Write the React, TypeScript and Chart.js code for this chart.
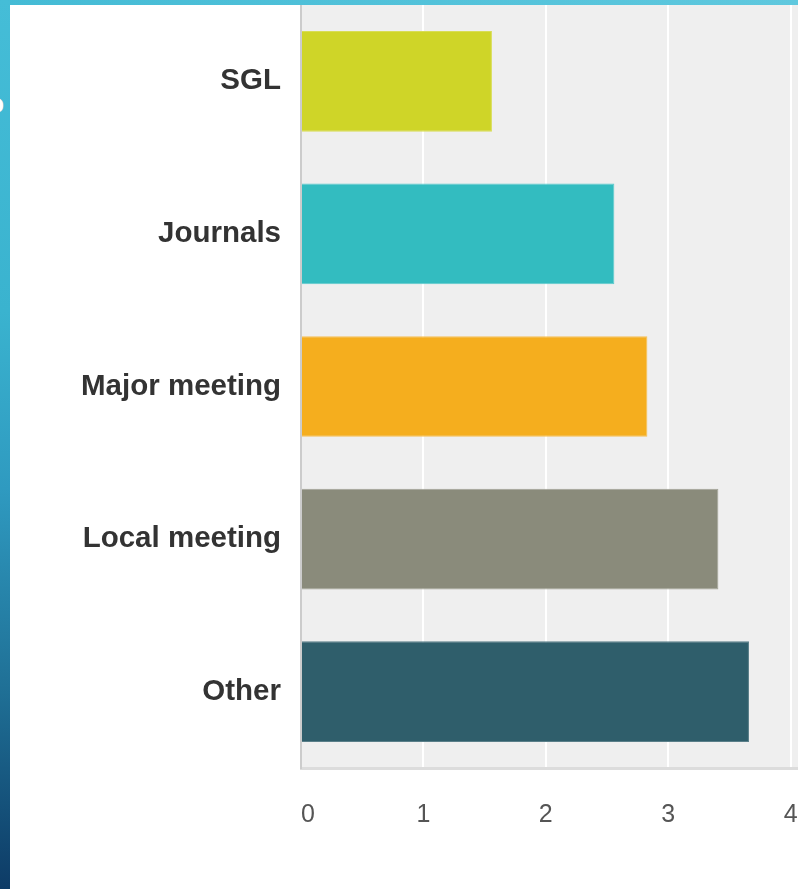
import React, { useEffect, useRef } from "react";
import { Chart, registerables } from "chart.js";

Chart.register(...registerables);

const categories = ["SGL", "Journals", "Major meeting", "Local meeting", "Other"];
const values = [1.56, 2.56, 2.83, 3.41, 3.66];
const barColors = ["#cfd528", "#33bcc0", "#f5ae1e", "#8a8b7b", "#2f5e6b"];
const barEdges = ["#d8dd55", "#5ccacd", "#f7c056", "#a2a396", "#5a7f89"];
const xTickValues = [0, 1, 2, 3, 4, 5];

const FONT = "'Liberation Sans', Arial, Helvetica, sans-serif";

export default function App() {
  const ref = useRef<HTMLCanvasElement | null>(null);

  useEffect(() => {
    const plotBg = {
      id: "plotBg",
      beforeDraw(chart: any) {
        const { ctx, chartArea: a } = chart;
        ctx.save();
        ctx.fillStyle = "#efefef";
        ctx.fillRect(a.left, a.top, a.right - a.left, a.bottom - a.top);
        ctx.restore();
      },
    };

    const chart = new Chart(ref.current as HTMLCanvasElement, {
      type: "bar",
      data: {
        labels: categories,
        datasets: [
          {
            data: values,
            backgroundColor: barColors,
            borderColor: barEdges,
            borderWidth: 1,
            barPercentage: 0.66,
            categoryPercentage: 1,
          },
        ],
      },
      options: {
        indexAxis: "y",
        responsive: false,
        animation: false,
        layout: { padding: { left: 0, right: 47, top: 5, bottom: 0 } },
        plugins: {
          legend: { display: false },
          tooltip: { enabled: false },
        },
        scales: {
          x: {
            min: 0,
            max: 5,
            afterBuildTicks: (s: any) => {
              s.ticks = xTickValues.map((v) => ({ value: v }));
            },
            afterFit: (s: any) => {
              s.height = 121;
              s.paddingLeft = 0;
              s.paddingRight = 0;
            },
            grid: {
              color: (c: any) => (c.tick && c.tick.value === 0 ? "rgba(0,0,0,0)" : "#ffffff"),
              lineWidth: 2,
              drawTicks: false,
            },
            border: { display: true, color: "#dcdcdc", width: 3 },
            ticks: {
              align: "inner",
              padding: 32,
              color: "#555555",
              font: { family: FONT, size: 25 },
            },
          },
          y: {
            afterFit: (s: any) => {
              s.width = 301;
              s.paddingTop = 0;
              s.paddingBottom = 0;
            },
            grid: { display: false, drawTicks: false },
            border: { display: true, color: "#cccccc", width: 2 },
            ticks: {
              padding: 20,
              color: "#333333",
              font: { family: FONT, size: 29.5, weight: "bold" },
            },
          },
        },
      },
      plugins: [plotBg],
    } as any);

    return () => chart.destroy();
  }, []);

  return (
    <div
      style={{
        position: "fixed",
        left: 0,
        top: 0,
        width: 798,
        height: 889,
        overflow: "hidden",
        background: "#ffffff",
      }}
    >
      <canvas
        ref={ref}
        width={960}
        height={889}
        style={{ position: "absolute", left: 0, top: 0, width: 960, height: 889 }}
      />
      <div
        style={{
          position: "absolute",
          left: 0,
          top: 0,
          width: 798,
          height: 5,
          background: "linear-gradient(to right, #44bbd5, #5fc8de)",
        }}
      />
      <div
        style={{
          position: "absolute",
          left: 0,
          top: 0,
          width: 10,
          height: 889,
          overflow: "hidden",
          background: "linear-gradient(to bottom, #45bdd7 0%, #3ab3cf 35%, #2f9ac0 55%, #1f6f95 78%, #0d3b66 100%)",
        }}
      >
        <span
          style={{
            position: "absolute",
            left: -13,
            top: 90,
            color: "#ffffff",
            fontFamily: FONT,
            fontWeight: "bold",
            fontSize: 28,
            lineHeight: 1,
          }}
        >
          o
        </span>
      </div>
    </div>
  );
}
